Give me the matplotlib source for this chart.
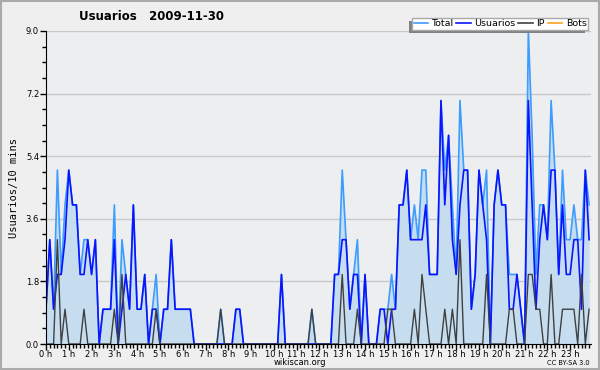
import numpy as np
import matplotlib.pyplot as plt
from matplotlib.ticker import MultipleLocator, FixedLocator

# 10-minute buckets over the day (144 points)
usuarios = [1, 3, 1, 2, 2, 3, 5, 4, 4, 2, 2, 3, 2, 3, 0, 1, 1, 1,
            3, 0, 1, 2, 1, 4, 1, 1, 2, 0, 1, 1, 0, 1, 1, 3, 1, 1,
            1, 1, 1, 0, 0, 0, 0, 0, 0, 0, 0, 0, 0, 0, 1, 1, 0, 0,
            0, 0, 0, 0, 0, 0, 0, 0, 2, 0, 0, 0, 0, 0, 0, 0, 0, 0,
            0, 0, 0, 0, 2, 2, 3, 3, 1, 2, 2, 0, 2, 0, 0, 0, 1, 1,
            0, 1, 1, 4, 4, 5, 3, 3, 3, 3, 4, 2, 2, 2, 7, 4, 6, 3,
            2, 4, 5, 5, 1, 2, 5, 4, 3, 0, 4, 5, 4, 4, 1, 1, 2, 1,
            0, 7, 4, 1, 3, 4, 3, 5, 5, 2, 4, 2, 2, 3, 3, 1, 5, 3]
ip = [0, 0, 0, 3, 0, 1, 0, 0, 0, 0, 1, 0, 0, 0, 0, 0, 0, 0,
      1, 0, 2, 0, 0, 0, 0, 0, 0, 0, 0, 1, 0, 0, 0, 0, 0, 0,
      0, 0, 0, 0, 0, 0, 0, 0, 0, 0, 1, 0, 0, 0, 0, 0, 0, 0,
      0, 0, 0, 0, 0, 0, 0, 0, 0, 0, 0, 0, 0, 0, 0, 0, 1, 0,
      0, 0, 0, 0, 0, 0, 2, 0, 0, 0, 1, 0, 0, 0, 0, 0, 0, 0,
      1, 1, 0, 0, 0, 0, 0, 1, 0, 2, 1, 0, 0, 0, 0, 1, 0, 1,
      0, 3, 0, 0, 0, 0, 0, 0, 2, 0, 0, 0, 0, 0, 1, 1, 0, 0,
      0, 2, 2, 1, 1, 0, 0, 2, 0, 0, 1, 1, 1, 1, 0, 2, 0, 1]
total = [1, 3, 1, 5, 2, 4, 5, 4, 4, 2, 3, 3, 2, 3, 0, 1, 1, 1,
         4, 0, 3, 2, 1, 4, 1, 1, 2, 0, 1, 2, 0, 1, 1, 3, 1, 1,
         1, 1, 1, 0, 0, 0, 0, 0, 0, 0, 1, 0, 0, 0, 1, 1, 0, 0,
         0, 0, 0, 0, 0, 0, 0, 0, 2, 0, 0, 0, 0, 0, 0, 0, 1, 0,
         0, 0, 0, 0, 2, 2, 5, 3, 1, 2, 3, 0, 2, 0, 0, 0, 1, 1,
         1, 2, 1, 4, 4, 5, 3, 4, 3, 5, 5, 2, 2, 2, 7, 5, 6, 4,
         2, 7, 5, 5, 1, 2, 5, 4, 5, 0, 4, 5, 4, 4, 2, 2, 2, 1,
         0, 9, 6, 2, 4, 4, 3, 7, 5, 2, 5, 3, 3, 4, 3, 3, 5, 4]
bots = [0] * 144
hour_labels = [f'{h} h' for h in range(24)]

x = np.arange(len(total))

fig = plt.figure(figsize=(6, 3.7), dpi=100, facecolor='#efefef')
ax = fig.add_axes([46/600, 26/370, 545/600, 313/370])
ax.set_facecolor('#edeef0')

ax.fill_between(x, total, color='#c6ddf0', lw=0)
ax.plot(x, total, color='#3c9cff', lw=1.2, label='Total')
ax.plot(x, usuarios, color='#0a14ff', lw=1.2, label='Usuarios')
ax.plot(x, ip, color='#404040', lw=1.0, label='IP')
ax.plot(x, bots, color='#ffa020', lw=1.0, label='Bots', alpha=0)

ax.set_xlim(0, 143.5)
ax.set_ylim(0, 9)
ax.yaxis.set_major_locator(MultipleLocator(1.8))
ax.yaxis.set_minor_locator(MultipleLocator(0.45))
ax.yaxis.set_major_formatter(lambda v, p: f'{v:.1f}')
ax.xaxis.set_major_locator(FixedLocator(np.arange(0, 144, 6)))
ax.xaxis.set_minor_locator(MultipleLocator(1))
ax.set_xticklabels(hour_labels)
ax.grid(axis='y', color='#c8c8c8', lw=1)
ax.set_axisbelow(True)
for s in ['top', 'right']:
    ax.spines[s].set_visible(False)
ax.tick_params(axis='both', labelsize=6, length=4, width=1, pad=1)
ax.tick_params(axis='both', which='minor', length=3, width=1)
ax.tick_params(axis='x', pad=0.5)

ax.set_ylabel('Usuarios/10 mins', family='DejaVu Sans Mono', fontsize=7.5, labelpad=5)
fig.text(0.252, 0.955, 'Usuarios   2009-11-30', fontsize=8.5, fontweight='bold',
         ha='center', va='center')
fig.text(0.5, 0.019, 'wikiscan.org', fontsize=6, ha='center', va='center')
fig.text(0.983, 0.019, 'CC BY-SA 3.0', fontsize=4.8, ha='right', va='center')

leg = ax.legend(loc='upper right', bbox_to_anchor=(1.004, 1.058), ncol=4, fontsize=6.8,
                handlelength=1.5, handletextpad=0.4, columnspacing=0.3,
                borderpad=0.2, fancybox=False, framealpha=1, edgecolor='#aaaaaa')
leg.set_zorder(6)
for line in leg.get_lines():
    line.set_alpha(1)
    line.set_linewidth(1.2)

# legend shadow, offset to the lower left
fig.canvas.draw()
bb = leg.get_window_extent()
ax.add_patch(plt.Rectangle((bb.x0 - 3, bb.y0 - 3), bb.width, bb.height, transform=None,
                           facecolor='#808080', edgecolor='none', zorder=5.5, clip_on=False))

# outer border
fig.patches.append(plt.Rectangle((0.002, 0.003), 0.996, 0.994, transform=fig.transFigure,
                                 fill=False, edgecolor='#aaaaaa', lw=1.5))

fig.savefig('out.png', dpi=100, facecolor=fig.get_facecolor())
